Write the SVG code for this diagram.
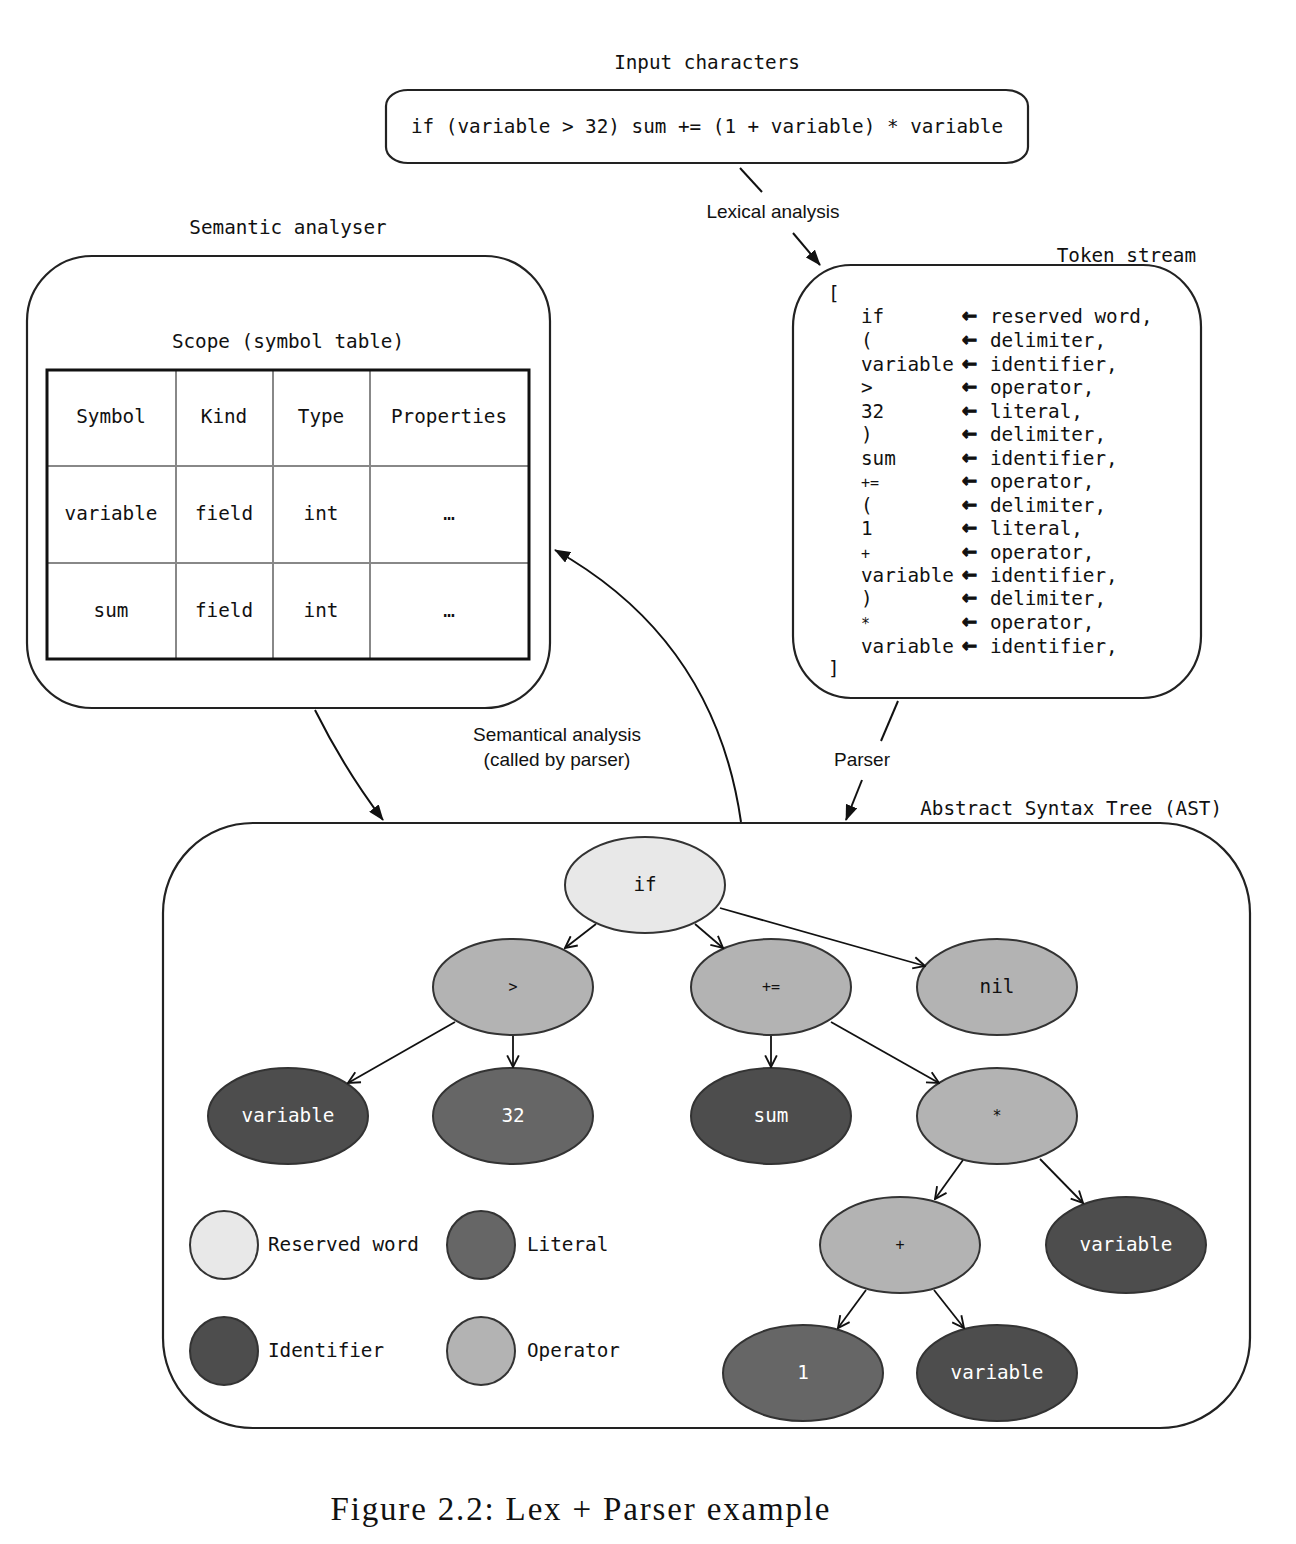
<svg xmlns="http://www.w3.org/2000/svg" width="1296" height="1544" viewBox="0 0 1296 1544">
<style>
.mono{font-family:"DejaVu Sans Mono","Liberation Mono",monospace;font-size:19.3px;fill:#111}
.mid{text-anchor:middle}
.sans{font-family:"Liberation Sans",Arial,sans-serif;font-size:19px;fill:#111;text-anchor:middle}
.box{fill:#fff;stroke:#222;stroke-width:2.2}
.ell{stroke:#333;stroke-width:2}
.rw{fill:#e8e8e8}
.op{fill:#b3b3b3}
.id{fill:#4d4d4d}
.lit{fill:#666}
.wt{fill:#fff}
.conn{fill:none;stroke:#111;stroke-width:2}
.tree{fill:none;stroke:#111;stroke-width:1.8}
.small{font-size:15px}
.arr{font-family:"DejaVu Sans","Noto Sans",sans-serif;font-size:18px;font-weight:bold;fill:#111;stroke:#111;stroke-width:1.1}
</style>
<defs>
<marker id="fa" viewBox="0 0 16 12" refX="15" refY="6" markerWidth="16" markerHeight="12" markerUnits="userSpaceOnUse" orient="auto">
<path d="M0,0 L16,6 L0,12 Z" fill="#111"/>
</marker>
<marker id="oa" viewBox="0 0 12 12" refX="11" refY="6" markerWidth="14" markerHeight="14" markerUnits="userSpaceOnUse" orient="auto">
<path d="M1,1 L11,6 L1,11" fill="none" stroke="#111" stroke-width="1.6"/>
</marker>
</defs>
<rect width="1296" height="1544" fill="#fff"/>

<g id="input">
<text class="mono mid" x="707" y="69">Input characters</text>
<rect class="box" x="386" y="90" width="642" height="73" rx="22" ry="16"/>
<text class="mono mid" x="707" y="133" font-size="19.5">if (variable &gt; 32) sum += (1 + variable) * variable</text>
</g>

<g id="semantic">
<text class="mono mid" x="288" y="234">Semantic analyser</text>
<rect class="box" x="27" y="256" width="523" height="452" rx="65" ry="65"/>
<text class="mono mid" x="288" y="348">Scope (symbol table)</text>
<g id="table">
<line x1="176" y1="370" x2="176" y2="659" stroke="#888" stroke-width="2"/>
<line x1="273" y1="370" x2="273" y2="659" stroke="#888" stroke-width="2"/>
<line x1="370" y1="370" x2="370" y2="659" stroke="#888" stroke-width="2"/>
<line x1="47" y1="466" x2="529" y2="466" stroke="#888" stroke-width="2"/>
<line x1="47" y1="563" x2="529" y2="563" stroke="#888" stroke-width="2"/>
<rect x="47" y="370" width="482" height="289" fill="none" stroke="#111" stroke-width="3"/>
<text class="mono mid" x="111" y="423">Symbol</text>
<text class="mono mid" x="224" y="423">Kind</text>
<text class="mono mid" x="321" y="423">Type</text>
<text class="mono mid" x="449" y="423">Properties</text>
<text class="mono mid" x="111" y="520">variable</text>
<text class="mono mid" x="224" y="520">field</text>
<text class="mono mid" x="321" y="520">int</text>
<text class="mono mid" x="449" y="520">…</text>
<text class="mono mid" x="111" y="617">sum</text>
<text class="mono mid" x="224" y="617">field</text>
<text class="mono mid" x="321" y="617">int</text>
<text class="mono mid" x="449" y="617">…</text>
</g>
</g>

<g id="tokens">
<text class="mono" x="1196" y="262" text-anchor="end">Token stream</text>
<rect class="box" x="793" y="265" width="408" height="433" rx="58" ry="62"/>
<text class="mono" x="828" y="300">[</text>
<g class="mono">
<text x="861" y="323">if</text><text x="990" y="323">reserved word,</text>
<text x="861" y="347">(</text><text x="990" y="347">delimiter,</text>
<text x="861" y="371">variable</text><text x="990" y="371">identifier,</text>
<text x="861" y="394">&gt;</text><text x="990" y="394">operator,</text>
<text x="861" y="418">32</text><text x="990" y="418">literal,</text>
<text x="861" y="441">)</text><text x="990" y="441">delimiter,</text>
<text x="861" y="465">sum</text><text x="990" y="465">identifier,</text>
<text x="861" y="488" font-size="15">+=</text><text x="990" y="488">operator,</text>
<text x="861" y="512">(</text><text x="990" y="512">delimiter,</text>
<text x="861" y="535">1</text><text x="990" y="535">literal,</text>
<text x="861" y="559" font-size="15">+</text><text x="990" y="559">operator,</text>
<text x="861" y="582">variable</text><text x="990" y="582">identifier,</text>
<text x="861" y="605">)</text><text x="990" y="605">delimiter,</text>
<text x="861" y="629" font-size="15">*</text><text x="990" y="629">operator,</text>
<text x="861" y="653">variable</text><text x="990" y="653">identifier,</text>
</g>
<g class="arr">
<text x="962" y="322">←</text><text x="962" y="346">←</text><text x="962" y="370">←</text>
<text x="962" y="393">←</text><text x="962" y="417">←</text><text x="962" y="440">←</text>
<text x="962" y="464">←</text><text x="962" y="487">←</text><text x="962" y="511">←</text>
<text x="962" y="534">←</text><text x="962" y="558">←</text><text x="962" y="581">←</text>
<text x="962" y="604">←</text><text x="962" y="628">←</text><text x="962" y="652">←</text>
</g>
<text class="mono" x="828" y="675">]</text>
</g>

<g id="ast">
<text class="mono" x="1222" y="815" text-anchor="end">Abstract Syntax Tree (AST)</text>
<rect class="box" x="163" y="823" width="1087" height="605" rx="90" ry="90" stroke="#333"/>
<g id="n-if"><ellipse class="ell rw" cx="645" cy="885" rx="80" ry="48"/><text class="mono mid" x="645" y="891">if</text></g>
<g id="n-gt"><ellipse class="ell op" cx="513" cy="987" rx="80" ry="48"/><text class="mono mid small" x="513" y="992">&gt;</text></g>
<g id="n-pluseq"><ellipse class="ell op" cx="771" cy="987" rx="80" ry="48"/><text class="mono mid small" x="771" y="992">+=</text></g>
<g id="n-nil"><ellipse class="ell op" cx="997" cy="987" rx="80" ry="48"/><text class="mono mid" x="997" y="993">nil</text></g>
<g id="n-var1"><ellipse class="ell id" cx="288" cy="1116" rx="80" ry="48"/><text class="mono mid wt" x="288" y="1122">variable</text></g>
<g id="n-32"><ellipse class="ell lit" cx="513" cy="1116" rx="80" ry="48"/><text class="mono mid wt" x="513" y="1122">32</text></g>
<g id="n-sum"><ellipse class="ell id" cx="771" cy="1116" rx="80" ry="48"/><text class="mono mid wt" x="771" y="1122">sum</text></g>
<g id="n-mul"><ellipse class="ell op" cx="997" cy="1116" rx="80" ry="48"/><text class="mono mid small" x="997" y="1121">*</text></g>
<g id="n-plus"><ellipse class="ell op" cx="900" cy="1245" rx="80" ry="48"/><text class="mono mid small" x="900" y="1250">+</text></g>
<g id="n-var2"><ellipse class="ell id" cx="1126" cy="1245" rx="80" ry="48"/><text class="mono mid wt" x="1126" y="1251">variable</text></g>
<g id="n-1"><ellipse class="ell lit" cx="803" cy="1373" rx="80" ry="48"/><text class="mono mid wt" x="803" y="1379">1</text></g>
<g id="n-var3"><ellipse class="ell id" cx="997" cy="1373" rx="80" ry="48"/><text class="mono mid wt" x="997" y="1379">variable</text></g>
<g id="legend">
<circle class="ell rw" cx="224" cy="1245" r="34"/><text class="mono" x="268" y="1251">Reserved word</text>
<circle class="ell lit" cx="481" cy="1245" r="34"/><text class="mono" x="527" y="1251">Literal</text>
<circle class="ell id" cx="224" cy="1351" r="34"/><text class="mono" x="268" y="1357">Identifier</text>
<circle class="ell op" cx="481" cy="1351" r="34"/><text class="mono" x="527" y="1357">Operator</text>
</g>
</g>

<g id="connectors">
<line class="conn" x1="740" y1="168" x2="762" y2="192"/>
<text class="sans" x="773" y="218">Lexical analysis</text>
<line class="conn" x1="793" y1="233" x2="820" y2="265" marker-end="url(#fa)"/>
<line class="conn" x1="898" y1="701" x2="881" y2="741"/>
<text class="sans" x="862" y="766">Parser</text>
<line class="conn" x1="862" y1="780" x2="846" y2="820" marker-end="url(#fa)"/>
<path class="conn" d="M315,710 Q345,770 383,820" marker-end="url(#fa)"/>
<text class="sans" x="557" y="741">Semantical analysis</text>
<text class="sans" x="557" y="766">(called by parser)</text>
<path class="conn" d="M741,822 Q715,640 555,550" marker-end="url(#fa)"/>
<line class="tree" x1="596" y1="924" x2="565" y2="948" marker-end="url(#oa)"/>
<line class="tree" x1="695" y1="924" x2="723" y2="948" marker-end="url(#oa)"/>
<line class="tree" x1="720" y1="908" x2="925" y2="966" marker-end="url(#oa)"/>
<line class="tree" x1="455" y1="1022" x2="348" y2="1083" marker-end="url(#oa)"/>
<line class="tree" x1="513" y1="1036" x2="513" y2="1067" marker-end="url(#oa)"/>
<line class="tree" x1="771" y1="1036" x2="771" y2="1067" marker-end="url(#oa)"/>
<line class="tree" x1="831" y1="1022" x2="939" y2="1083" marker-end="url(#oa)"/>
<line class="tree" x1="963" y1="1160" x2="935" y2="1199" marker-end="url(#oa)"/>
<line class="tree" x1="1040" y1="1159" x2="1083" y2="1203" marker-end="url(#oa)"/>
<line class="tree" x1="866" y1="1290" x2="838" y2="1328" marker-end="url(#oa)"/>
<line class="tree" x1="934" y1="1290" x2="964" y2="1328" marker-end="url(#oa)"/>
</g>

<text x="580" y="1520" text-anchor="middle" font-family="'Liberation Serif','Times New Roman',serif" font-size="33" fill="#111" textLength="499">Figure 2.2: Lex + Parser example</text>
</svg>
